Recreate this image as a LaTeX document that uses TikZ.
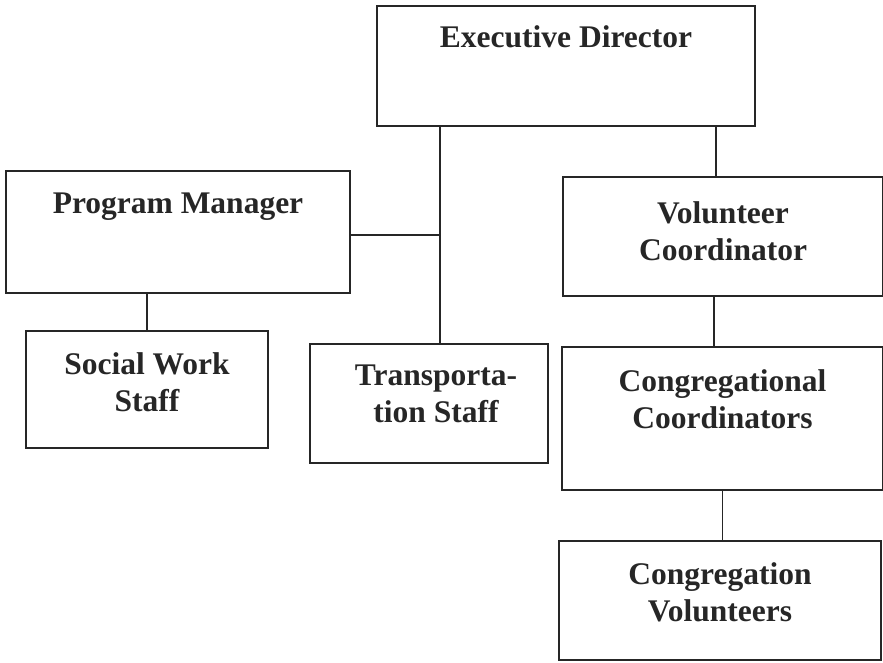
\documentclass[tikz,border=0pt]{standalone}
\usepackage{fontspec}
\setmainfont{Liberation Serif}
\usetikzlibrary{positioning}

\tikzset{
  unit/.style={draw=black!85, line width=1.4pt, inner sep=0pt},
  boxtext/.style={font=\bfseries\fontsize{31.5}{37}\selectfont, text=black!85,
    align=center, inner sep=0pt},
  link/.style={draw=black!85, line width=1.3pt},
}

\begin{document}
\begin{tikzpicture}[x=1pt,y=-1pt]
      \useasboundingbox (0,0) rectangle (883,662);
      % boxes
      \node[unit, minimum width=378pt, minimum height=120pt] (exec) at (566,66) {};
      \node[unit, minimum width=344pt, minimum height=122pt] (pm) at (178,232) {};
      \node[unit, minimum width=320pt, minimum height=119pt] (vol) at (723,236.5) {};
      \node[unit, minimum width=242pt, minimum height=117pt] (social) at (147,389.5) {};
      \node[unit, minimum width=238pt, minimum height=119pt] (trans) at (429,403.5) {};
      \node[unit, minimum width=321pt, minimum height=143pt] (cong) at (722.5,418.5) {};
      \node[unit, minimum width=322pt, minimum height=119pt] (congvol) at (720,600.5) {};
      % titles
      \node[boxtext, below=20pt of exec.north] (exec-t) {Executive Director};
      \node[boxtext, below=22pt of pm.north] (pm-t) {Program Manager};
      \node[boxtext, below=25pt of vol.north] (vol-t) {Volunteer\\Coordinator};
      \node[boxtext, below=22pt of social.north] (social-t) {Social Work\\Staff};
      \node[boxtext, below=21pt of trans.north, xshift=7pt] (trans-t) {Transporta-\\tion Staff};
      \node[boxtext, below=23pt of cong.north] (cong-t) {Congregational\\Coordinators};
      \node[boxtext, below=22pt of congvol.north] (congvol-t) {Congregation\\Volunteers};
      % connectors
      \coordinate (pm-j) at (440,235);
      \draw[link] (exec.south -| pm-j) -- (trans.north -| pm-j);
      \draw[link] (pm.east |- pm-j) -- (pm-j);
      \draw[link] (social.north) -- (social.north |- pm.south);
      \draw[link] ([xshift=-7pt]vol.north) -- ([xshift=-7pt]vol.north |- exec.south);
      \draw[link] ([xshift=-9pt]vol.south) -- ([xshift=-9pt]vol.south |- cong.north);
      \draw[link] (cong.south) -- (cong.south |- congvol.north);
      %
\end{tikzpicture}
\end{document}
